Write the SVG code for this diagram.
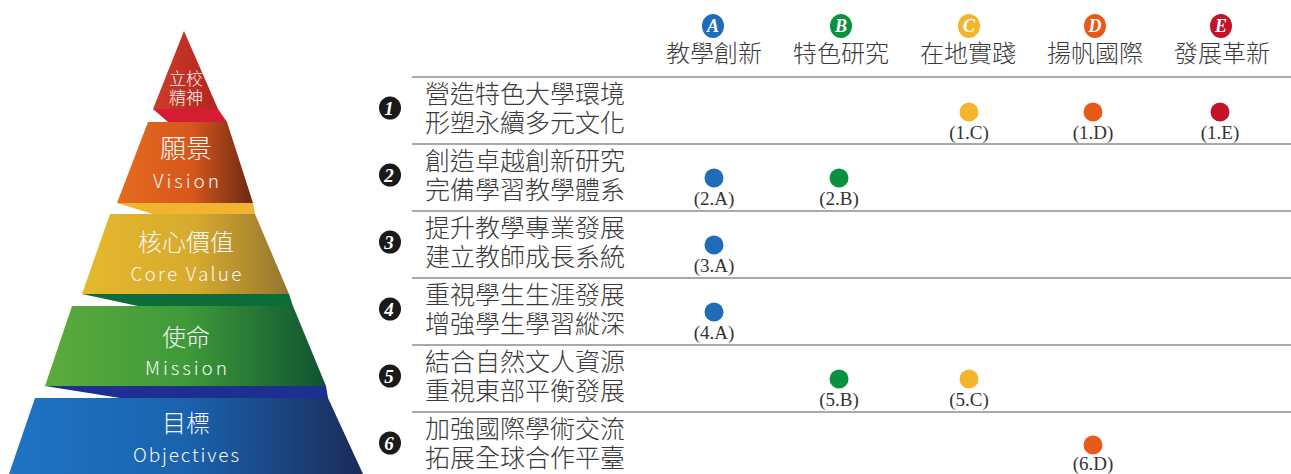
<svg xmlns="http://www.w3.org/2000/svg" width="1291" height="474" viewBox="0 0 1291 474">
<defs>
<linearGradient id="gTop" x1="0" x2="1" y1="0" y2="0"><stop offset="0" stop-color="#cd3d2a"/><stop offset="1" stop-color="#b3241f"/></linearGradient>
<linearGradient id="gVis" x1="0" x2="1" y1="0" y2="0"><stop offset="0" stop-color="#e56b1f"/><stop offset="0.55" stop-color="#d7571b"/><stop offset="1" stop-color="#6a2915"/></linearGradient>
<linearGradient id="gCore" x1="0" x2="1" y1="0" y2="0"><stop offset="0" stop-color="#e5b92c"/><stop offset="0.55" stop-color="#d6aa2e"/><stop offset="1" stop-color="#94752f"/></linearGradient>
<linearGradient id="gMis" x1="0" x2="1" y1="0" y2="0"><stop offset="0" stop-color="#5cab3c"/><stop offset="0.5" stop-color="#3f9a3a"/><stop offset="1" stop-color="#0e5330"/></linearGradient>
<linearGradient id="gObj" x1="0" x2="1" y1="0" y2="0"><stop offset="0" stop-color="#1f74c4"/><stop offset="0.5" stop-color="#1a63ae"/><stop offset="1" stop-color="#1b2a58"/></linearGradient>
</defs>
<style>
.pz{font-family:"Noto Sans CJK TC","Noto Sans",sans-serif;font-weight:300;fill:#f7f7f7;text-anchor:middle}
.pl{font-family:"Noto Sans CJK TC","Noto Sans",sans-serif;font-weight:300;fill:#f7f7f7;text-anchor:middle;font-size:19px}
.hd{font-family:"Noto Sans CJK TC",sans-serif;font-weight:300;font-size:24px;fill:#3a3a3a;text-anchor:middle}
.hl{font-family:"Liberation Serif",serif;font-size:18px;font-weight:bold;font-style:italic;fill:#fff;text-anchor:middle}
.rt{font-family:"Noto Sans CJK TC",sans-serif;font-weight:300;font-size:25px;fill:#3a3a3a}
.nb{font-family:"Liberation Serif",serif;font-size:19px;font-weight:bold;font-style:italic;fill:#fff;text-anchor:middle}
.nc{fill:#1a1a1a}
.lb{font-family:"Liberation Serif",serif;font-size:19px;fill:#333;text-anchor:middle}
.sep{stroke:#8c8c8c;stroke-width:1.6}
.cA{fill:#1f6cb8}.cB{fill:#08913f}.cC{fill:#f4b52e}.cD{fill:#e85a1a}.cE{fill:#c4122a}
</style>

<g id="pyramid">
<g id="level-spirit">
<polygon points="184,31 218,109 153,109" fill="url(#gTop)"/>
<polygon points="153,109 218,109 227,122 168,122" fill="#d61c32"/>
<text class="pz" x="186" y="85" font-size="17">立校</text>
<text class="pz" x="186" y="104" font-size="17">精神</text>
</g>
<g id="level-vision">
<polygon points="148,122 227,122 253,203 117,203" fill="url(#gVis)"/>
<polygon points="117,203 253,203 255,214 153,214" fill="#f2b330"/>
<text class="pz" x="186" y="158" font-size="26">願景</text>
<text class="pl" x="186" y="188" textLength="66" lengthAdjust="spacing">Vision</text>
</g>
<g id="level-core">
<polygon points="110,214 255,214 289,294 82,294" fill="url(#gCore)"/>
<polygon points="82,294 289,294 293,306 138,306" fill="#0b6e3a"/>
<text class="pz" x="186" y="251" font-size="24">核心價值</text>
<text class="pl" x="186" y="281" textLength="111" lengthAdjust="spacing">Core Value</text>
</g>
<g id="level-mission">
<polygon points="72,306 293,306 326,386 45,386" fill="url(#gMis)"/>
<polygon points="45,386 326,386 328,398 120,398" fill="#1d2f8f"/>
<text class="pz" x="186" y="346" font-size="24">使命</text>
<text class="pl" x="186" y="375" textLength="82" lengthAdjust="spacing">Mission</text>
</g>
<g id="level-objectives">
<polygon points="35,398 328,398 363,474 9,474" fill="url(#gObj)"/>
<text class="pz" x="186" y="432" font-size="24">目標</text>
<text class="pl" x="186" y="462" textLength="106" lengthAdjust="spacing">Objectives</text>
</g>
</g>

<g id="separators">
<line class="sep" x1="412" y1="77" x2="1291" y2="77"/>
<line class="sep" x1="412" y1="144" x2="1291" y2="144"/>
<line class="sep" x1="412" y1="211" x2="1291" y2="211"/>
<line class="sep" x1="412" y1="278" x2="1291" y2="278"/>
<line class="sep" x1="412" y1="345" x2="1291" y2="345"/>
<line class="sep" x1="412" y1="412" x2="1291" y2="412"/>
</g>

<g id="header">
<g id="col-A"><ellipse class="cA" cx="713" cy="26" rx="11" ry="12"/><text class="hl" x="713" y="32">A</text><text class="hd" x="714" y="62">教學創新</text></g>
<g id="col-B"><ellipse class="cB" cx="841" cy="26" rx="11" ry="12"/><text class="hl" x="841" y="32">B</text><text class="hd" x="841" y="62">特色研究</text></g>
<g id="col-C"><ellipse class="cC" cx="969" cy="26" rx="11" ry="12"/><text class="hl" x="969" y="32">C</text><text class="hd" x="968" y="62">在地實踐</text></g>
<g id="col-D"><ellipse class="cD" cx="1095" cy="26" rx="11" ry="12"/><text class="hl" x="1095" y="32">D</text><text class="hd" x="1095" y="62">揚帆國際</text></g>
<g id="col-E"><ellipse class="cE" cx="1221" cy="26" rx="11" ry="12"/><text class="hl" x="1221" y="32">E</text><text class="hd" x="1222" y="62">發展革新</text></g>
</g>

<g id="row-1">
<ellipse class="nc" cx="390" cy="108" rx="11" ry="11.5"/><text class="nb" x="389" y="115">1</text>
<text class="rt" x="425" y="103">營造特色大學環境</text>
<text class="rt" x="425" y="132">形塑永續多元文化</text>
<circle class="cC" cx="969" cy="112" r="9.5"/><text class="lb" x="969" y="139">(1.C)</text>
<circle class="cD" cx="1093" cy="112" r="9.5"/><text class="lb" x="1093" y="139">(1.D)</text>
<circle class="cE" cx="1220" cy="112" r="9.5"/><text class="lb" x="1220" y="139">(1.E)</text>
</g>
<g id="row-2">
<ellipse class="nc" cx="390" cy="175" rx="11" ry="11.5"/><text class="nb" x="389" y="182">2</text>
<text class="rt" x="425" y="170">創造卓越創新研究</text>
<text class="rt" x="425" y="199">完備學習教學體系</text>
<circle class="cA" cx="714" cy="178" r="9.5"/><text class="lb" x="714" y="205">(2.A)</text>
<circle class="cB" cx="839" cy="178" r="9.5"/><text class="lb" x="839" y="205">(2.B)</text>
</g>
<g id="row-3">
<ellipse class="nc" cx="390" cy="242" rx="11" ry="11.5"/><text class="nb" x="389" y="249">3</text>
<text class="rt" x="425" y="237">提升教學專業發展</text>
<text class="rt" x="425" y="266">建立教師成長系統</text>
<circle class="cA" cx="714" cy="245" r="9.5"/><text class="lb" x="714" y="272">(3.A)</text>
</g>
<g id="row-4">
<ellipse class="nc" cx="390" cy="309" rx="11" ry="11.5"/><text class="nb" x="389" y="316">4</text>
<text class="rt" x="425" y="304">重視學生生涯發展</text>
<text class="rt" x="425" y="333">增強學生學習縱深</text>
<circle class="cA" cx="714" cy="312" r="9.5"/><text class="lb" x="714" y="339">(4.A)</text>
</g>
<g id="row-5">
<ellipse class="nc" cx="390" cy="376" rx="11" ry="11.5"/><text class="nb" x="389" y="383">5</text>
<text class="rt" x="425" y="371">結合自然文人資源</text>
<text class="rt" x="425" y="400">重視東部平衡發展</text>
<circle class="cB" cx="839" cy="379" r="9.5"/><text class="lb" x="839" y="406">(5.B)</text>
<circle class="cC" cx="969" cy="379" r="9.5"/><text class="lb" x="969" y="406">(5.C)</text>
</g>
<g id="row-6">
<ellipse class="nc" cx="390" cy="443" rx="11" ry="11.5"/><text class="nb" x="389" y="450">6</text>
<text class="rt" x="425" y="438">加強國際學術交流</text>
<text class="rt" x="425" y="467">拓展全球合作平臺</text>
<circle class="cD" cx="1093" cy="445" r="9.5"/><text class="lb" x="1093" y="470">(6.D)</text>
</g>
</svg>
